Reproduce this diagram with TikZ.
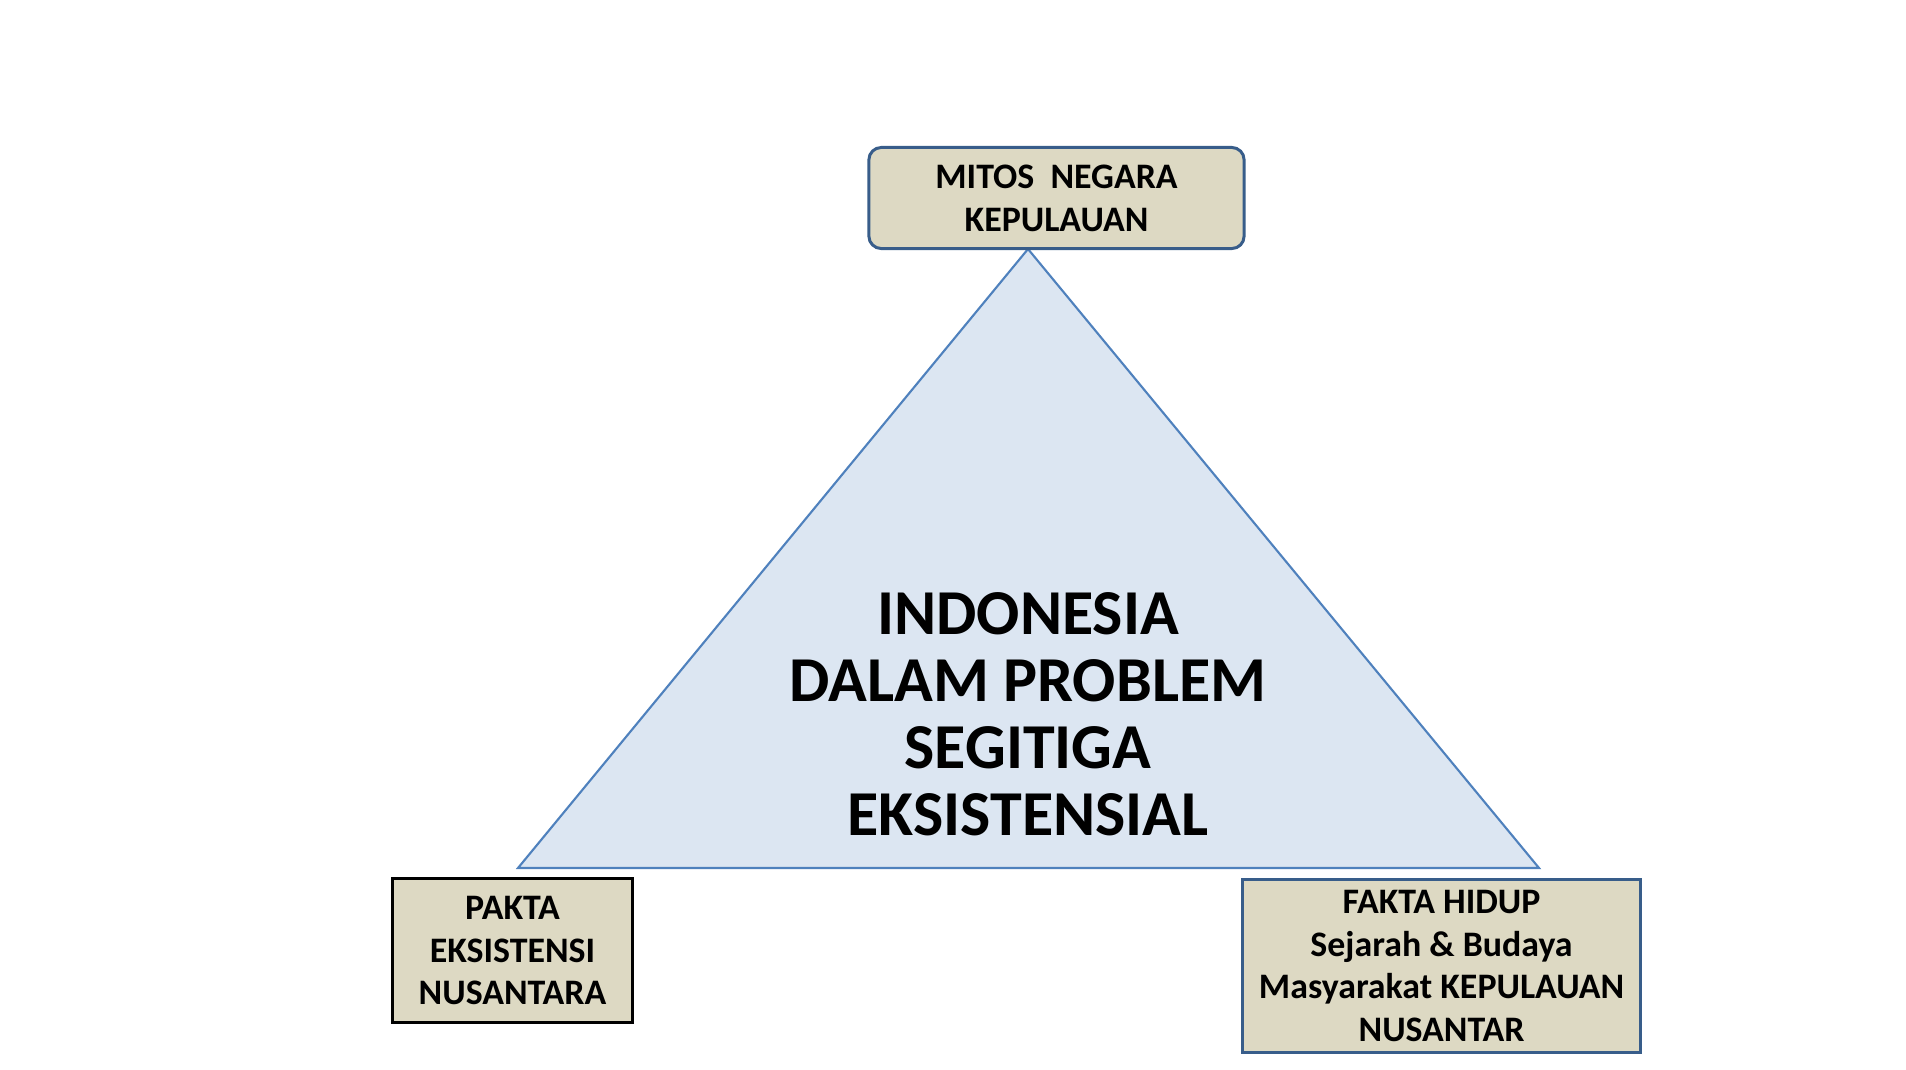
\documentclass[tikz,border=0pt]{standalone}
\usepackage{fontspec}
\setmainfont{Carlito}
\definecolor{kotak}{HTML}{DDD9C3}
\definecolor{segitiga}{HTML}{DCE6F2}
\definecolor{garis}{HTML}{4F81BD}
\definecolor{bingkai}{HTML}{385D8A}

\begin{document}
\begin{tikzpicture}[x=0.01cm, y=-0.01cm,
    kotakteks/.style={fill=kotak, line width=0.85pt, align=center, inner sep=0pt,
      font=\fontsize{10.2}{12.2}\selectfont\bfseries}]
        \useasboundingbox (0,0) rectangle (1906,1069);
        \coordinate (puncak) at (1028,249);
        \coordinate (kiri) at (518,868);
        \coordinate (kanan) at (1539,868);
        \filldraw [fill=segitiga, draw=garis, line width=0.6pt] (puncak) -- (kiri) -- (kanan) -- cycle;
        \node [align=center, font=\fontsize{18.2}{19}\selectfont\bfseries] (inti) at (1028,714)
          {INDONESIA\\DALAM PROBLEM\\SEGITIGA\\EKSISTENSIAL};
        \node [kotakteks, draw=bingkai, rounded corners=3.5pt, minimum width=3.75cm, minimum height=1.01cm]
          (mitos) at (1056.5,198) {MITOS\ \ NEGARA\\KEPULAUAN};
        \node [kotakteks, draw=black, minimum width=2.39cm, minimum height=1.43cm]
          (pakta) at (512.5,950.5) {PAKTA\\EKSISTENSI\\NUSANTARA};
        \node [kotakteks, draw=bingkai, minimum width=3.97cm, minimum height=1.72cm]
          (fakta) at (1441.5,966) {FAKTA HIDUP\\Sejarah \& Budaya\\Masyarakat KEPULAUAN\\NUSANTAR};
      \end{tikzpicture}
\end{document}
